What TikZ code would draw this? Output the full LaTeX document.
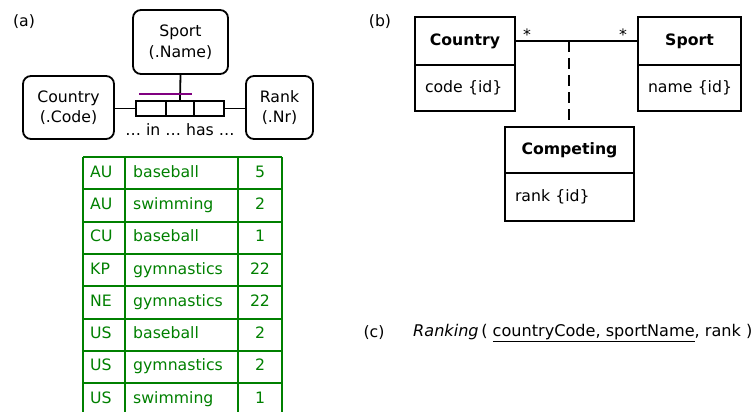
\documentclass[tikz,border=0pt]{standalone}
\usepackage{fontspec}
\setmainfont{DejaVu Sans}
\definecolor{tgreen}{RGB}{0,128,0}
\definecolor{rpurple}{RGB}{128,0,128}
\newcommand{\fs}{\fontsize{15.7}{20.5}\selectfont}
\begin{document}
\begin{tikzpicture}[x=1pt,y=-1pt,
  every node/.style={font=\fs, inner sep=0pt},
  ent/.style={draw, rounded corners=8pt, line width=1.8pt, align=center},
  role/.style={draw, line width=1.8pt, minimum height=15pt},
  conn/.style={line width=1.8pt},
  cell/.style={text=tgreen},
  grid/.style={draw=tgreen, line width=2pt},
  clshead/.style={draw, line width=1.9pt, outer sep=0pt, minimum width=#1, minimum height=48pt, font=\fs\bfseries},
  clsattr/.style={draw, line width=1.9pt, outer sep=0pt, minimum width=#1, minimum height=46pt, text width=#1-12pt, align=left},
]
\useasboundingbox (0,0) rectangle (755,412);

% ---------- (a) ----------
\node (la) at (24,22) {(a)};
\node[ent, minimum width=95pt, minimum height=64pt] (sport) at (180.5,42) {Sport\\(.Name)};
\node[ent, minimum width=91pt, minimum height=63pt] (country) at (68.5,107.5) {Country\\(.Code)};
\node[ent, minimum width=67pt, minimum height=63pt] (rank) at (279.5,107.5) {Rank\\(.Nr)};
\node[role, minimum width=30pt] (r1) at (151,108.5) {};
\node[role, minimum width=28pt] (r2) at (180,108.5) {};
\node[role, minimum width=30pt] (r3) at (209,108.5) {};
\node (reading) at (180,130) {… in … has …};
\draw[conn] (sport.south) -- (r2.north);
\draw[conn] (country.east |- r1.west) -- (r1.west);
\draw[conn] (r3.east) -- (rank.west |- r3.east);
\coordinate (u1) at (139,94);
\coordinate (u2) at (192,94);
\draw[rpurple, line width=1.8pt] (u1) -- (u2);

% table
\foreach \k in {0,...,7}{
  \draw[grid] (83.3,157+32.3*\k) -- (282,157+32.3*\k);
}
\foreach \x in {83.3,125,238,282}{
  \draw[grid] (\x,157) -- (\x,412);
}
\foreach \c/\s/\n [count=\k from 0] in {AU/baseball/5, AU/swimming/2, CU/baseball/1, KP/gymnastics/22, NE/gymnastics/22, US/baseball/2, US/gymnastics/2, US/swimming/1}{
  \node[cell, anchor=west] (c\k) at (90,173+32.3*\k) {\strut\c};
  \node[cell, anchor=west] (s\k) at (133,173+32.3*\k) {\strut\s};
  \node[cell] (n\k) at (260,173+32.3*\k) {\strut\n};
}

% ---------- (b) ----------
\node (lb) at (380,22) {(b)};
\node[clshead=100pt] (ch) at (465,41) {Country};
\node[clsattr=100pt, anchor=north] (ca) at (ch.south) {\hspace*{4pt}code \{id\}};
\node[clshead=103pt] (sh) at (689.5,41) {Sport};
\node[clsattr=103pt, anchor=north] (sa) at (sh.south) {\hspace*{4pt}name \{id\}};
\node[clshead=129pt, minimum height=46pt] (kh) at (569.5,150) {Competing};
\node[clsattr=129pt, minimum height=48pt, anchor=north] (ka) at (kh.south) {\hspace*{4pt}rank \{id\}};
\draw[conn] (ch.east) -- coordinate[pos=0.44] (mid) (sh.west);
\draw[conn, dash pattern=on 11pt off 6pt] (mid) -- (mid |- kh.north);
\node (st1) at (527,35) {*};
\node (st2) at (623,35) {*};

% ---------- (c) ----------
\node (lc) at (374,333) {(c)};
\node[anchor=west, font=\fontsize{16.1}{19}\selectfont] (rel) at (413,333) {\strut\textit{Ranking}\,( \underline{countryCode, sportName}, rank )};
\end{tikzpicture}
\end{document}
